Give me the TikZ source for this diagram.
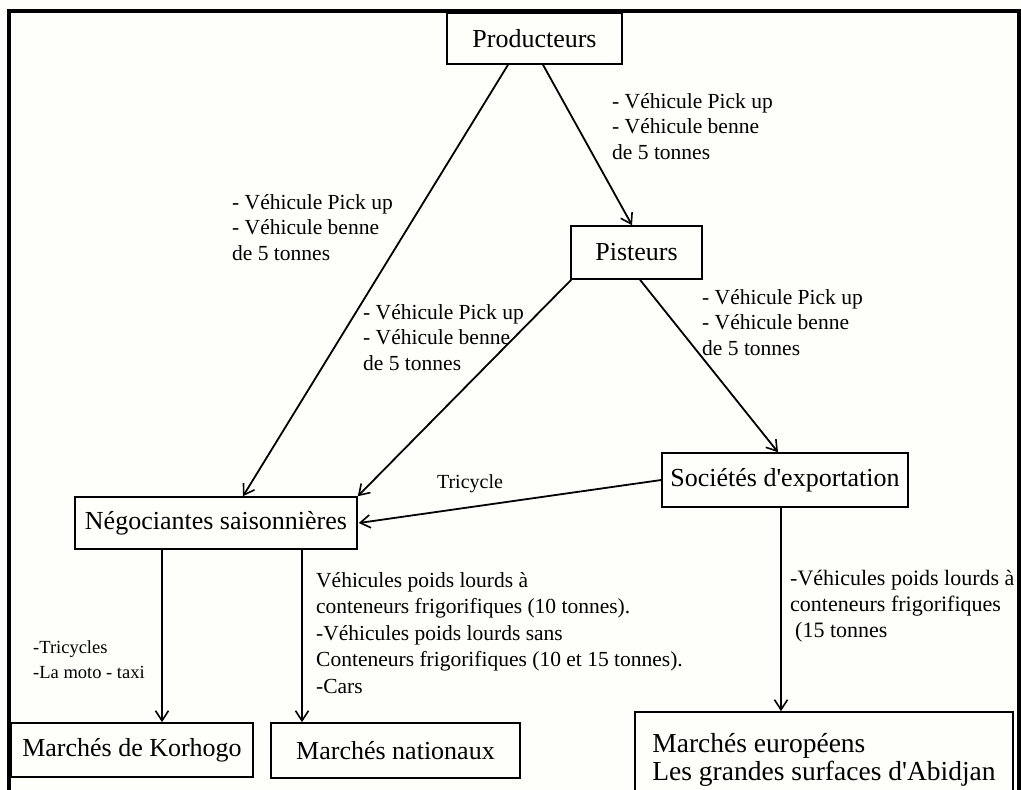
\documentclass[tikz,border=0pt]{standalone}
\usepackage{fontspec}
\setmainfont{Liberation Serif}
\usetikzlibrary{arrows.meta,calc}
\definecolor{bgc}{RGB}{254,254,250}
\begin{document}
\begin{tikzpicture}[x=1pt,y=-1pt,
  bx/.style={draw, line width=1.6pt, inner sep=0pt, font=\fontsize{26pt}{28pt}\selectfont},
  arr/.style={line width=1.8pt, -{Straight Barb[length=10pt,width=13pt,line width=1.6pt]}},
  lbl/.style={anchor=north west, inner sep=0pt, align=left, font=\fontsize{21.5pt}{25.5pt}\selectfont},
  smalllbl/.style={anchor=north west, inner sep=0pt, align=left, font=\fontsize{18.5pt}{25pt}\selectfont}
]
\useasboundingbox (0,0) rectangle (1021,790);
\fill[bgc] (0,0) rectangle (1021,790);
\draw[line width=4pt] (9,795) -- (9,11) -- (1019,11) -- (1019,795);

% boxes
\node[bx, minimum width=175pt, minimum height=51pt] (prod) at (534.5,38.5) {Producteurs};
\node[bx, minimum width=131pt, minimum height=53pt] (pist) at (636.5,252.5) {Pisteurs};
\node[bx, minimum width=246pt, minimum height=54pt] (soc) at (785,480) {Sociétés d\textquotesingle exportation};
\node[bx, minimum width=282pt, minimum height=52pt] (neg) at (216,523) {Négociantes saisonnières};
\node[bx, minimum width=242pt, minimum height=54pt] (kor) at (132,750) {Marchés de Korhogo};
\node[bx, minimum width=249pt, minimum height=55pt] (nat) at (395.5,750.5) {Marchés nationaux};
\node[bx, minimum width=378pt, minimum height=96pt, align=left, font=\fontsize{27.5pt}{28pt}\selectfont] (eur) at (824,760) {Marchés européens\\Les grandes surfaces d\textquotesingle Abidjan};

% connectors
\draw[arr] ([xshift=-26.5pt]prod.south) -- ([xshift=27pt]neg.north);
\draw[arr] ([xshift=8.5pt]prod.south) -- ([xshift=-4.5pt]pist.north);
\draw[arr] ([xshift=1pt]pist.south west) -- (neg.north east);
\draw[arr] ([xshift=3.5pt]pist.south) -- ([xshift=-7pt]soc.north);
\draw[arr] (soc.west) -- ([xshift=1pt]neg.east);
\draw[arr] ([xshift=-54pt]neg.south) -- ([xshift=-54pt]neg.south |- kor.north);
\draw[arr] ([xshift=86pt]neg.south) -- ([xshift=86pt]neg.south |- nat.north);
\draw[arr] ([xshift=-4pt]soc.south) -- ([xshift=-4pt]soc.south |- eur.north);

% labels
\node[lbl] (la) at (612,93) {- Véhicule Pick up\\- Véhicule benne\\de 5 tonnes};
\node[lbl] (lb) at (232,194) {- Véhicule Pick up\\- Véhicule benne\\de 5 tonnes};
\node[lbl] (lc) at (702,289) {- Véhicule Pick up\\- Véhicule benne\\de 5 tonnes};
\node[lbl] (ld) at (363,304) {- Véhicule Pick up\\- Véhicule benne\\de 5 tonnes};
\node[lbl, font=\fontsize{21.5pt}{26.5pt}\selectfont] (lm) at (316,572) {Véhicules poids lourds à\\conteneurs frigorifiques (10 tonnes).\\-Véhicules poids lourds sans\\Conteneurs frigorifiques (10 et 15 tonnes).\\-Cars};
\node[lbl, font=\fontsize{22pt}{26pt}\selectfont] (lr) at (790,570) {-Véhicules poids lourds à\\conteneurs frigorifiques\\\hspace{5pt}(15 tonnes};
\node[smalllbl] (lt) at (33,640) {-Tricycles\\-La moto - taxi};
\node[inner sep=0pt, font=\fontsize{20pt}{24pt}\selectfont] (ltri) at (470,484) {Tricycle};
\end{tikzpicture}
\end{document}
